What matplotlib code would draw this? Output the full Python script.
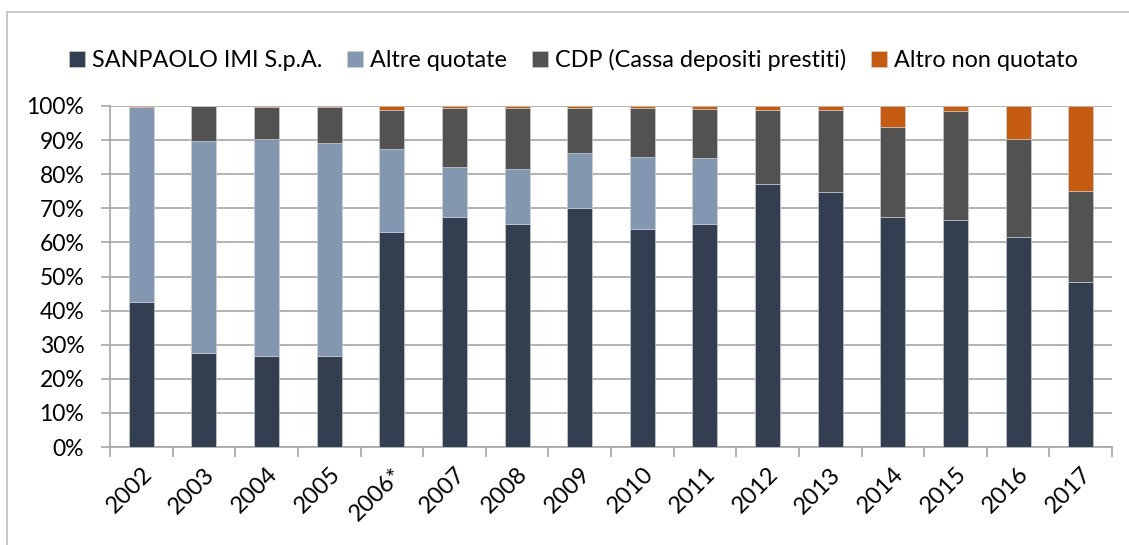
import numpy as np
import matplotlib
matplotlib.use("Agg")
from matplotlib import pyplot as plt
from matplotlib.patches import Rectangle

anni = ["2002", "2003", "2004", "2005", "2006*", "2007", "2008", "2009",
        "2010", "2011", "2012", "2013", "2014", "2015", "2016", "2017"]
sanpaolo = [42.6, 27.7, 26.8, 26.8, 63.0, 67.4, 65.4, 70.1,
            63.9, 65.4, 77.0, 74.9, 67.5, 66.5, 61.7, 48.5]
altre_quotate = [57.1, 62.0, 63.5, 62.3, 24.3, 14.6, 16.0, 16.2,
                 21.1, 19.3, 0, 0, 0, 0, 0, 0]
cdp = [0, 10.3, 9.5, 10.7, 11.6, 17.5, 18.1, 13.2,
       14.5, 14.5, 21.9, 24.0, 26.4, 32.1, 28.7, 26.7]
altro_non_quotato = [0.3, 0, 0.2, 0.2, 1.1, 0.5, 0.5, 0.5,
                     0.5, 0.8, 1.1, 1.1, 6.1, 1.4, 9.6, 24.8]

serie = [
    ("SANPAOLO IMI S.p.A.", sanpaolo, "#333F50"),
    ("Altre quotate", altre_quotate, "#8497B0"),
    ("CDP (Cassa depositi prestiti)", cdp, "#525252"),
    ("Altro non quotato", altro_non_quotato, "#C55A11"),
]

plt.rcParams["font.family"] = ["Lato", "DejaVu Sans"]

fig = plt.figure(figsize=(11.29, 5.45), dpi=100)
ax = fig.add_axes([110 / 1129, 1 - 447 / 545, 1002 / 1129, 341 / 545])

# cornice del grafico
fig.patches.append(Rectangle((7 / 1129, -0.1), 1.2, 1 - 12 / 545 + 0.1,
                             transform=fig.transFigure, fill=False,
                             edgecolor="#BFBFBF", linewidth=1.2))

x = np.arange(len(anni))
base = np.zeros(len(anni))
for nome, valori, colore in serie:
    v = np.array(valori) / 100
    ax.bar(x, v, 0.4, bottom=base, color=colore, label=nome,
           edgecolor="#D0D4DA", linewidth=0.4, zorder=3)
    base += v

ax.set_xlim(-0.5, len(anni) - 0.5)
ax.set_ylim(0, 1)
ax.set_yticks(np.arange(0, 1.01, 0.1))
ax.set_yticklabels([f"{int(round(t * 100))}%" for t in np.arange(0, 1.01, 0.1)],
                   fontsize=16.5)
ax.grid(axis="y", color="#A6A6A6", linewidth=1.2, zorder=0)
ax.set_axisbelow(True)

ax.set_xticks(x)
ax.set_xticklabels(anni, fontsize=17, rotation=45, ha="right", va="top",
                   rotation_mode="anchor")
ax.tick_params(axis="x", length=0, pad=12)
ax.set_xticks(np.arange(-0.5, len(anni)), minor=True)
ax.tick_params(axis="x", which="minor", length=7, color="#A6A6A6", width=1.2)
ax.tick_params(axis="y", length=6.5, color="#A6A6A6", width=1.2, pad=12)

for s in ["top", "right"]:
    ax.spines[s].set_visible(False)
for s in ["left", "bottom"]:
    ax.spines[s].set_color("#A6A6A6")
    ax.spines[s].set_linewidth(1.2)

fig.legend(loc="center", bbox_to_anchor=(0.508, 1 - 60 / 545), ncol=4,
           frameon=False, fontsize=16.8, handlelength=0.7, handleheight=0.7,
           handletextpad=0.3, columnspacing=1.05)

fig.savefig("out.png", dpi=100)
